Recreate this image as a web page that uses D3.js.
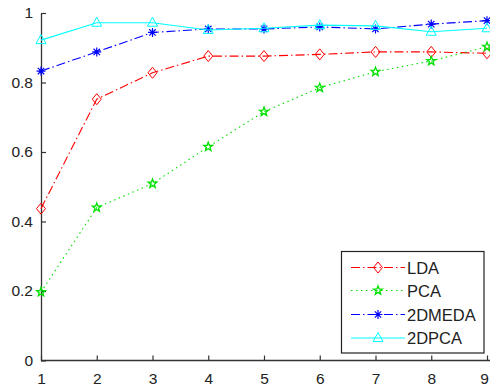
<!DOCTYPE html>
<html><head><meta charset="utf-8">
<script src="https://cdn.jsdelivr.net/npm/d3@7"></script>
<style>body{margin:0;background:#fff}svg{display:block}text{font-family:"Liberation Sans",Arial,sans-serif}</style>
</head><body><svg id="c" width="490" height="387"></svg>
<script>
const xValues = [1,2,3,4,5,6,7,8,9];
const lda    = [0.437,0.752,0.828,0.876,0.876,0.881,0.888,0.888,0.884];
const pca    = [0.197,0.440,0.509,0.615,0.716,0.785,0.831,0.862,0.903];
const dmeda  = [0.833,0.888,0.944,0.954,0.954,0.960,0.954,0.968,0.978];
const dpca   = [0.922,0.972,0.972,0.951,0.956,0.965,0.963,0.946,0.956];
const seriesNames = ["LDA","PCA","2DMEDA","2DPCA"];
const xTicks = [1,2,3,4,5,6,7,8,9];
const yTicks = [0,0.2,0.4,0.6,0.8,1];

const series = [
  {name:seriesNames[0], values:lda,   color:"#ff0000", dash:"9,3,1.5,3", marker:"diamond"},
  {name:seriesNames[1], values:pca,   color:"#00e000", dash:"1.5,3.5",   marker:"star"},
  {name:seriesNames[2], values:dmeda, color:"#0000ff", dash:"9,3,1.5,3", marker:"asterisk"},
  {name:seriesNames[3], values:dpca,  color:"#00ffff", dash:null,        marker:"triangle"}
];

const svg = d3.select("#c");
const x = d3.scaleLinear().domain([1,9]).range([41,487]);
const y = d3.scaleLinear().domain([0,1]).range([360.5,13]);

const xAxis = svg.append("g").attr("transform","translate(0,360.5)")
  .call(d3.axisBottom(x).tickValues(xTicks).tickSizeInner(-5).tickSizeOuter(0).tickPadding(12).tickFormat(d3.format("d")));
const yAxis = svg.append("g").attr("transform","translate(41,0)")
  .call(d3.axisLeft(y).tickValues(yTicks).tickSizeInner(-5).tickSizeOuter(0).tickPadding(8).tickFormat(d=>d===0||d===1?d3.format("d")(d):d3.format(".1f")(d)));
[xAxis,yAxis].forEach(g=>{
  g.select(".domain").attr("stroke","#333").attr("stroke-width",1.3);
  g.selectAll(".tick line").attr("stroke","#333").attr("stroke-width",1.2);
  g.selectAll(".tick text").attr("fill","#222").style("font-size","15.5px");
});
xAxis.select(".domain").attr("d","M41,0H490");
// keep the last label inside the canvas
xAxis.selectAll(".tick text").filter(d=>d===9).attr("dx","-3");

function drawMarker(g, type, cx, cy, color){
  if(type==="diamond"){
    g.append("path").attr("d",`M${cx},${cy-5.5}L${cx+4.5},${cy}L${cx},${cy+5.5}L${cx-4.5},${cy}Z`)
     .attr("fill","none").attr("stroke",color).attr("stroke-width",1);
  } else if(type==="triangle"){
    g.append("path").attr("d",`M${cx},${cy-5.5}L${cx+5},${cy+3.5}L${cx-5},${cy+3.5}Z`)
     .attr("fill","none").attr("stroke",color).attr("stroke-width",1);
  } else if(type==="star"){
    const pts=[];
    for(let i=0;i<10;i++){const r=i%2?1.9:4.6;const a=-Math.PI/2+i*Math.PI/5;pts.push([cx+r*Math.cos(a),cy+r*Math.sin(a)]);}
    g.append("path").attr("d","M"+pts.map(p=>p.join(",")).join("L")+"Z")
     .attr("fill","none").attr("stroke",color).attr("stroke-width",1.3);
  } else if(type==="asterisk"){
    const r=4.5, d=3.2;
    g.append("path").attr("d",`M${cx-r},${cy}H${cx+r}M${cx},${cy-r}V${cy+r}M${cx-d},${cy-d}L${cx+d},${cy+d}M${cx-d},${cy+d}L${cx+d},${cy-d}`)
     .attr("stroke",color).attr("stroke-width",1.2);
    g.append("circle").attr("cx",cx).attr("cy",cy).attr("r",1.6).attr("fill",color);
  }
}

const line = d3.line().x((d,i)=>x(xValues[i])).y(d=>y(d));
const plot = svg.append("g");
series.forEach(s=>{
  plot.append("path").datum(s.values).attr("d",line)
    .attr("fill","none").attr("stroke",s.color).attr("stroke-width",1.1)
    .attr("stroke-dasharray",s.dash);
  const mg = plot.append("g");
  s.values.forEach((v,i)=>drawMarker(mg,s.marker,x(xValues[i]),y(v),s.color));
});

const lg = svg.append("g");
lg.append("rect").attr("x",341.5).attr("y",251.5).attr("width",142.5).attr("height",101.5)
  .attr("fill","#fff").attr("stroke","#222").attr("stroke-width",1.2);
const rowsY=[267.5,290.5,314.5,338];
series.forEach((s,i)=>{
  const yy=rowsY[i];
  lg.append("line").attr("x1",351).attr("x2",405).attr("y1",yy).attr("y2",yy)
    .attr("stroke",s.color).attr("stroke-width",1.1).attr("stroke-dasharray",s.dash);
  drawMarker(lg,s.marker,378,yy,s.color);
  lg.append("text").attr("x",407).attr("y",yy+6).text(s.name)
    .attr("fill","#222").style("font-size","16.5px");
});
</script></body></html>
